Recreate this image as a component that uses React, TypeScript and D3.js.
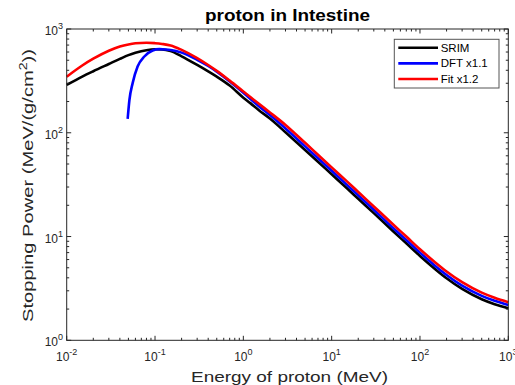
import React from "react";
import * as d3 from "d3";

const energy = [0.01, 0.015, 0.02, 0.03, 0.04, 0.05, 0.06, 0.08, 0.1, 0.12, 0.15, 0.2, 0.3, 0.4, 0.5, 0.7, 1, 1.2, 1.5, 2, 3, 5, 7, 10, 15, 20, 30, 50, 70, 100, 150, 200, 300, 500, 700, 1000];
const srim = [289, 348, 392, 460, 515, 560, 590, 625, 637, 635, 612, 545, 450, 390, 347, 285, 218, 193, 165, 137, 101, 68.3, 52.6, 39.8, 29.0, 23.1, 16.8, 11.2, 8.6, 6.5, 4.82, 3.96, 3.13, 2.49, 2.23, 2.04];
const fit = [347, 445, 517, 617, 678, 710, 728, 738, 730, 718, 695, 630, 525, 450, 395, 318, 250, 221, 190, 157, 119, 80, 61.4, 46.4, 33.8, 26.9, 19.5, 13.0, 10.0, 7.54, 5.6, 4.6, 3.63, 2.88, 2.57, 2.33];

const dftEnergy = [0.049, 0.0513, 0.0558, 0.0635, 0.0757, 0.094, 0.112, 0.133, 0.15, 0.2, 0.3, 0.4, 0.5, 0.7, 1, 1.5, 2, 3, 5, 7, 10, 15, 20, 30, 50, 70, 100, 150, 200, 300, 500, 700, 1000];
const dft = [136, 207, 301, 435, 543, 621, 640, 635, 628, 592, 505, 440, 388, 312, 243, 180, 148, 110, 74, 56.9, 43, 31.3, 24.9, 18.1, 12.0, 9.25, 7.0, 5.18, 4.26, 3.36, 2.68, 2.4, 2.19];

const xTickExps = [-2, -1, 0, 1, 2, 3];
const yTickExps = [0, 1, 2, 3];
const legendLabels = ["SRIM", "DFT x1.1", "Fit x1.2"];
const legendColors = ["#000000", "#0000ff", "#ff0000"];

const FONT = "'Liberation Sans', Arial, Helvetica, sans-serif";
const AX = "#262626";

export default function App() {
  const left = 66.7, right = 508.3, top = 29, bottom = 340.3;
  const x = d3.scaleLog().domain([1e-2, 1e3]).range([left, right]);
  const y = d3.scaleLog().domain([1, 1e3]).range([bottom, top]);

  const line = d3
    .line<[number, number]>()
    .x((d) => x(d[0]))
    .y((d) => y(d[1]))
    .curve(d3.curveMonotoneX);

  const series = [
    { xs: energy, ys: srim, color: legendColors[0] },
    { xs: dftEnergy, ys: dft, color: legendColors[1] },
    { xs: energy, ys: fit, color: legendColors[2] },
  ];

  const xMinor: number[] = [];
  for (let e = -2; e < 3; e++) for (let m = 2; m <= 9; m++) xMinor.push(m * Math.pow(10, e));
  const yMinor: number[] = [];
  for (let e = 0; e < 3; e++) for (let m = 2; m <= 9; m++) yMinor.push(m * Math.pow(10, e));

  const MAJ = 4.5, MIN = 2.5;

  return (
    <svg width={515} height={385} style={{ position: "absolute", left: 0, top: 0, background: "#fff" }} fontFamily={FONT}>
      <rect x={0} y={0} width={515} height={385} fill="#fff" />
      <g fill="none" strokeWidth={2.6} strokeLinejoin="round">
        {series.map((s, i) => (
          <path key={i} d={line(s.xs.map((v, j) => [v, s.ys[j]] as [number, number])) || ""} stroke={s.color} />
        ))}
      </g>
      <rect x={left} y={top} width={right - left} height={bottom - top} fill="none" stroke={AX} strokeWidth={1} />
      <g stroke={AX} strokeWidth={1}>
        {xTickExps.map((e) => {
          const px = x(Math.pow(10, e));
          return (
            <g key={"xt" + e}>
              <line x1={px} x2={px} y1={bottom} y2={bottom - MAJ} />
              <line x1={px} x2={px} y1={top} y2={top + MAJ} />
            </g>
          );
        })}
        {xMinor.map((v, i) => {
          const px = x(v);
          return (
            <g key={"xm" + i}>
              <line x1={px} x2={px} y1={bottom} y2={bottom - MIN} />
              <line x1={px} x2={px} y1={top} y2={top + MIN} />
            </g>
          );
        })}
        {yTickExps.map((e) => {
          const py = y(Math.pow(10, e));
          return (
            <g key={"yt" + e}>
              <line x1={left} x2={left + MAJ} y1={py} y2={py} />
              <line x1={right} x2={right - MAJ} y1={py} y2={py} />
            </g>
          );
        })}
        {yMinor.map((v, i) => {
          const py = y(v);
          return (
            <g key={"ym" + i}>
              <line x1={left} x2={left + MIN} y1={py} y2={py} />
              <line x1={right} x2={right - MIN} y1={py} y2={py} />
            </g>
          );
        })}
      </g>
      <g fill={AX} fontSize={12}>
        {xTickExps.map((e) => (
          <text key={"xl" + e} x={x(Math.pow(10, e))} y={360.5} textAnchor="middle">
            10
            <tspan dy={-6} fontSize={9}>{String(e)}</tspan>
          </text>
        ))}
        {yTickExps.map((e) => (
          <text key={"yl" + e} x={63} y={y(Math.pow(10, e)) + 6} textAnchor="end">
            10
            <tspan dy={-6} fontSize={9}>{String(e)}</tspan>
          </text>
        ))}
      </g>
      <text x={287.5} y={20.5} textAnchor="middle" fontWeight="bold" fontSize={16} fill="#000" textLength={165} lengthAdjust="spacingAndGlyphs">
        proton in Intestine
      </text>
      <text x={289.5} y={381.5} textAnchor="middle" fontSize={15} fill={AX} textLength={197} lengthAdjust="spacingAndGlyphs">
        Energy of proton (MeV)
      </text>
      <text transform={`translate(32.5,185.5) rotate(-90)`} textAnchor="middle" fontSize={15} fill={AX} textLength={273} lengthAdjust="spacingAndGlyphs">
        Stopping Power (MeV/(g/cm<tspan dy={-6} fontSize={10.5}>2</tspan><tspan dy={6}>))</tspan>
      </text>
      <g>
        <rect x={394.3} y={39.3} width={104.7} height={48.7} fill="#fff" stroke="#555" strokeWidth={1} />
        {legendLabels.map((lab, i) => {
          const ly = 47.7 + i * 15.65;
          return (
            <g key={lab}>
              <line x1={398.3} x2={438} y1={ly} y2={ly} stroke={legendColors[i]} strokeWidth={2.6} />
              <text x={440.7} y={ly + 4} fontSize={11.5} fill="#000">
                {lab}
              </text>
            </g>
          );
        })}
      </g>
    </svg>
  );
}
